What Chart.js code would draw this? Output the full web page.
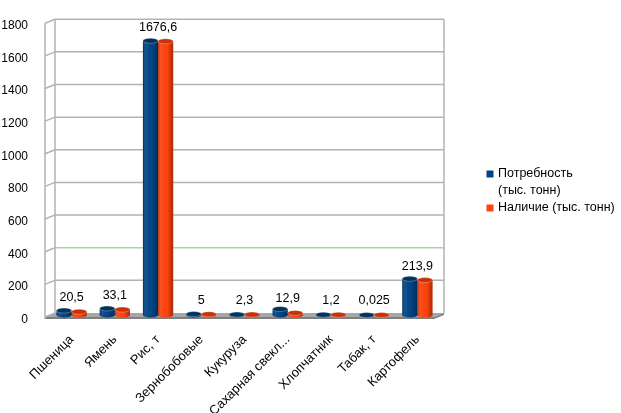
<!DOCTYPE html>
<html><head><meta charset="utf-8">
<script src="https://cdn.jsdelivr.net/npm/chart.js@4/dist/chart.umd.min.js"></script>
<style>html,body{margin:0;padding:0;background:#fff}#wrap{width:621px;height:413px}</style>
</head><body><div id="wrap"><canvas id="c" width="621" height="413"></canvas></div>
<script>
const categories = ['Пшеница','Ямень','Рис, т','Зернобобовые','Кукуруза','Сахарная свекл...','Хлопчатник','Табак, т','Картофель'];
const needValues = [27, 40, 1680, 6, 2.5, 36, 2, 0.03, 222];
const availValues = [20.5, 33.1, 1676.6, 5, 2.3, 12.9, 1.2, 0.025, 213.9];
const yTickValues = [0, 200, 400, 600, 800, 1000, 1200, 1400, 1600, 1800];
const seriesNames = [['Потребность', '(тыс. тонн)'], ['Наличие (тыс. тонн)']];
const seriesColors = ['#004586', '#ff420e'];
const seriesShade = ['#00335f', '#c93208'];

const FONT = 'Liberation Sans, Arial, sans-serif';
const DX = 5, DY = 2;

const wallPlugin = {
  id: 'wall3d',
  beforeDatasetsDraw(chart) {
    const ctx = chart.ctx, y = chart.scales.y, a = chart.chartArea;
    const l = a.left, r = a.right;
    const y0 = y.getPixelForValue(0), yTop = y.getPixelForValue(1800);
    ctx.save();
    ctx.fillStyle = '#a6a6a6';
    ctx.beginPath();
    ctx.moveTo(l - DX, y0 + DY); ctx.lineTo(r - DX, y0 + DY);
    ctx.lineTo(r + DX, y0 - DY); ctx.lineTo(l + DX, y0 - DY); ctx.closePath(); ctx.fill();
    ctx.fillStyle = '#7f7f7f';
    ctx.beginPath();
    ctx.moveTo(l - DX, y0 + DY); ctx.lineTo(r - DX, y0 + DY);
    ctx.lineTo(r - DX, y0 + DY + 2); ctx.lineTo(l - DX, y0 + DY + 2); ctx.closePath(); ctx.fill();
    ctx.beginPath();
    ctx.moveTo(r - DX, y0 + DY); ctx.lineTo(r + DX, y0 - DY);
    ctx.lineTo(r + DX, y0 - DY + 2); ctx.lineTo(r - DX, y0 + DY + 2); ctx.closePath(); ctx.fill();
    ctx.lineWidth = 1.5;
    yTickValues.forEach(v => {
      const py = y.getPixelForValue(v);
      ctx.strokeStyle = v === 400 ? '#a9d3a2' : '#b3b3b3';
      ctx.beginPath();
      if (v !== 0) { ctx.moveTo(l + DX, py - DY); ctx.lineTo(r + DX, py - DY); }
      ctx.stroke();
      ctx.strokeStyle = '#b3b3b3';
      ctx.beginPath(); ctx.moveTo(l - DX, py + DY); ctx.lineTo(l + DX, py - DY); ctx.stroke();
    });
    ctx.strokeStyle = '#b3b3b3';
    ctx.beginPath();
    ctx.moveTo(l - DX, yTop + DY); ctx.lineTo(l - DX, y0 + DY + 2);
    ctx.moveTo(l + DX, yTop - DY); ctx.lineTo(l + DX, y0 - DY);
    ctx.moveTo(r + DX, yTop - DY); ctx.lineTo(r + DX, y0 - DY);
    ctx.stroke();
    ctx.restore();
  }
};

const cylPlugin = {
  id: 'cyl',
  afterDatasetsDraw(chart) {
    const ctx = chart.ctx;
    chart.data.datasets.forEach((ds, di) => {
      const meta = chart.getDatasetMeta(di);
      meta.data.forEach(el => {
        const w = el.width, left = el.x - w / 2, ry = 2.5;
        const top = Math.min(el.y, el.base), base = el.base;
        ctx.save();
        ctx.fillStyle = seriesColors[di];
        ctx.beginPath();
        ctx.ellipse(el.x, base, w / 2, ry, 0, 0, Math.PI);
        ctx.fill();
        const g = ctx.createLinearGradient(left, 0, left + w, 0);
        g.addColorStop(0, 'rgba(0,0,0,0.28)');
        g.addColorStop(0.25, 'rgba(255,255,255,0.06)');
        g.addColorStop(0.6, 'rgba(0,0,0,0)');
        g.addColorStop(1, 'rgba(0,0,0,0.35)');
        ctx.fillStyle = g;
        ctx.beginPath();
        ctx.moveTo(left, top);
        ctx.lineTo(left + w, top);
        ctx.lineTo(left + w, base);
        ctx.ellipse(el.x, base, w / 2, ry, 0, 0, Math.PI);
        ctx.closePath();
        ctx.fill();
        ctx.fillStyle = seriesShade[di];
        ctx.strokeStyle = 'rgba(255,255,255,0.35)';
        ctx.lineWidth = 0.8;
        ctx.beginPath();
        ctx.ellipse(el.x, top, w / 2, ry, 0, 0, Math.PI * 2);
        ctx.fill(); ctx.stroke();
        ctx.restore();
      });
    });
  }
};

const valueLabelPlugin = {
  id: 'valueLabels',
  afterDatasetsDraw(chart) {
    const ctx = chart.ctx, x = chart.scales.x, y = chart.scales.y;
    ctx.save();
    ctx.font = '12.5px ' + FONT;
    ctx.fillStyle = '#000';
    ctx.textAlign = 'center';
    ctx.textBaseline = 'middle';
    availValues.forEach((v, i) => {
      ctx.fillText(String(v).replace('.', ','), x.getPixelForValue(i), y.getPixelForValue(v) - 14);
    });
    ctx.restore();
  }
};

const legendPlugin = {
  id: 'legendRight',
  afterDraw(chart) {
    const ctx = chart.ctx;
    ctx.save();
    ctx.font = '12.5px ' + FONT;
    ctx.textBaseline = 'middle';
    ctx.textAlign = 'left';
    const boxX = 486.5, textX = 498;
    let yy = 174;
    chart.data.datasets.forEach((ds, di) => {
      ctx.fillStyle = ds.backgroundColor;
      ctx.fillRect(boxX, yy - 3.5, 7, 7);
      ctx.fillStyle = '#000';
      seriesNames[di].forEach((line, li) => {
        ctx.fillText(line, textX, yy + li * 16.5);
      });
      yy += seriesNames[di].length * 16.5 + 1;
    });
    ctx.restore();
  }
};

new Chart(document.getElementById('c'), {
  type: 'bar',
  data: {
    labels: categories,
    datasets: [
      { label: seriesNames[0].join(' '), data: needValues, backgroundColor: seriesColors[0], barPercentage: 1.0, categoryPercentage: 0.7 },
      { label: seriesNames[1].join(' '), data: availValues, backgroundColor: seriesColors[1], barPercentage: 1.0, categoryPercentage: 0.7 }
    ]
  },
  options: {
    responsive: false,
    animation: false,
    devicePixelRatio: 1,
    layout: { padding: { left: 0, top: 19, right: 182, bottom: 0 } },
    plugins: { legend: { display: false }, tooltip: { enabled: false } },
    scales: {
      x: {
        grid: { display: false }, border: { display: false },
        ticks: { autoSkip: false, maxRotation: 45, minRotation: 45, padding: 9, color: '#000', font: { family: FONT, size: 13 } },
        afterFit(s) { s.height = 98; }
      },
      y: {
        min: 0, max: 1800,
        grid: { display: false }, border: { display: false },
        ticks: { stepSize: 200, padding: 14, labelOffset: 4.5, color: '#000', font: { family: FONT, size: 12 },
          callback: (v) => String(v) },
        afterFit(s) { s.width = 50; }
      }
    }
  },
  plugins: [wallPlugin, cylPlugin, valueLabelPlugin, legendPlugin]
});
</script></body></html>
